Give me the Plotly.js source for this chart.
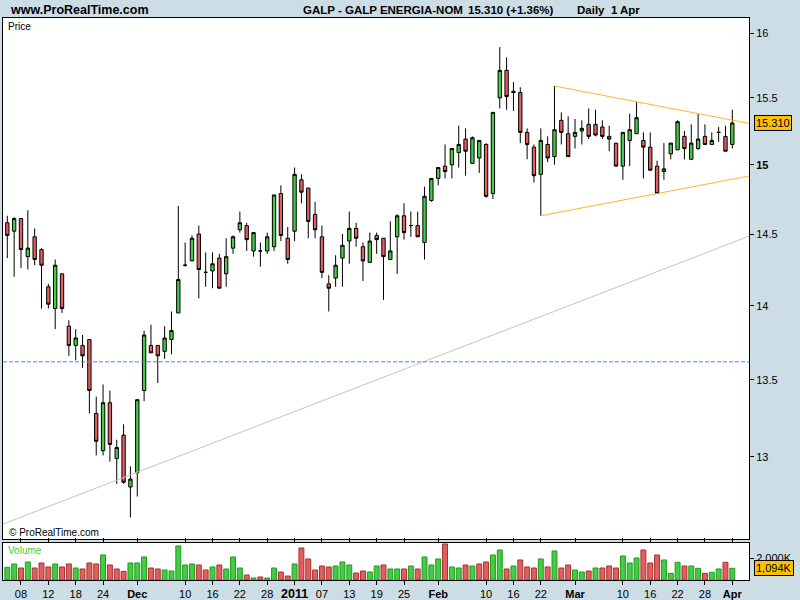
<!DOCTYPE html>
<html><head><meta charset="utf-8">
<script src="https://cdn.plot.ly/plotly-3.0.1.min.js"></script>
<style>html,body{margin:0;padding:0;background:#cddde6;}#chart{width:800px;height:600px;}</style>
</head><body><div id="chart"></div>
<script>
// ---- data (GALP daily, Nov 2010 - Apr 2011) ----
const dates = [
'2010-11-04','2010-11-05','2010-11-08','2010-11-09','2010-11-10','2010-11-11','2010-11-12','2010-11-15','2010-11-16','2010-11-17',
'2010-11-18','2010-11-19','2010-11-22','2010-11-23','2010-11-24','2010-11-25','2010-11-26','2010-11-29','2010-11-30','2010-12-01',
'2010-12-02','2010-12-03','2010-12-06','2010-12-07','2010-12-08','2010-12-09','2010-12-10','2010-12-13','2010-12-14','2010-12-15',
'2010-12-16','2010-12-17','2010-12-20','2010-12-21','2010-12-22','2010-12-23','2010-12-24','2010-12-27','2010-12-28','2010-12-29',
'2010-12-30','2010-12-31','2011-01-03','2011-01-04','2011-01-05','2011-01-06','2011-01-07','2011-01-10','2011-01-11','2011-01-12',
'2011-01-13','2011-01-14','2011-01-17','2011-01-18','2011-01-19','2011-01-20','2011-01-21','2011-01-24','2011-01-25','2011-01-26',
'2011-01-27','2011-01-28','2011-01-31','2011-02-01','2011-02-02','2011-02-03','2011-02-04','2011-02-07','2011-02-08','2011-02-09',
'2011-02-10','2011-02-11','2011-02-14','2011-02-15','2011-02-16','2011-02-17','2011-02-18','2011-02-21','2011-02-22','2011-02-23',
'2011-02-24','2011-02-25','2011-02-28','2011-03-01','2011-03-02','2011-03-03','2011-03-04','2011-03-07','2011-03-08','2011-03-09',
'2011-03-10','2011-03-11','2011-03-14','2011-03-15','2011-03-16','2011-03-17','2011-03-18','2011-03-21','2011-03-22','2011-03-23',
'2011-03-24','2011-03-25','2011-03-28','2011-03-29','2011-03-30','2011-03-31','2011-04-01'];

const openP = [
14.58,14.52,14.61,14.34,14.48,14.39,14.13,13.98,14.22,13.86,
13.73,13.73,13.77,13.28,13.04,13.35,12.99,13.14,12.81,12.90,
13.43,13.73,13.73,13.69,13.77,13.95,14.28,14.31,14.50,14.23,
14.24,14.33,14.22,14.40,14.53,14.56,14.38,14.38,14.38,14.41,
14.79,14.47,14.52,14.89,14.83,14.64,14.48,14.15,14.19,14.33,
14.45,14.54,14.41,14.30,14.49,14.47,14.32,14.48,14.63,14.56,
14.56,14.44,14.74,14.90,14.99,15.00,15.09,15.19,15.01,15.05,
15.15,14.79,15.50,15.71,15.55,15.54,15.24,15.13,14.93,15.15,
15.06,15.33,15.23,15.21,15.25,15.30,15.30,15.28,15.21,15.16,
14.99,15.18,15.23,15.18,15.13,14.99,14.95,15.08,15.11,15.21,
15.04,15.12,15.21,15.15,15.24,15.21,15.15];

const highP = [
14.63,14.62,14.61,14.67,14.54,14.40,14.15,14.32,14.22,13.90,
13.84,13.80,13.77,13.39,13.47,13.43,13.11,13.21,12.94,13.37,
13.83,13.87,13.73,13.86,13.96,14.70,14.44,14.49,14.56,14.37,
14.37,14.36,14.47,14.49,14.66,14.58,14.51,14.44,14.51,14.78,
14.85,14.55,14.98,14.93,14.83,14.73,14.56,14.21,14.35,14.50,
14.66,14.58,14.44,14.51,14.51,14.47,14.59,14.64,14.72,14.66,
14.66,14.84,14.90,14.98,15.15,15.12,15.29,15.27,15.21,15.18,
15.16,15.39,15.89,15.81,15.62,15.58,15.27,15.15,15.27,15.21,
15.59,15.39,15.36,15.34,15.33,15.42,15.41,15.33,15.29,15.16,
15.24,15.38,15.47,15.24,15.24,15.03,15.16,15.16,15.33,15.25,
15.30,15.38,15.30,15.24,15.28,15.29,15.41];

const lowP = [
14.33,14.20,14.26,14.25,14.28,13.98,13.98,13.84,13.95,13.66,
13.63,13.58,13.28,13.01,13.01,12.97,12.83,12.83,12.62,12.75,
13.36,13.68,13.48,13.64,13.67,13.95,14.27,14.31,14.05,14.13,
14.12,14.12,14.13,14.36,14.51,14.38,14.34,14.27,14.36,14.38,
14.45,14.29,14.45,14.72,14.47,14.47,14.19,13.96,14.13,14.13,
14.29,14.41,14.17,14.30,14.36,14.04,14.32,14.22,14.46,14.48,
14.48,14.32,14.73,14.85,14.90,14.90,14.98,14.92,15.01,14.94,
14.76,14.75,15.42,15.41,15.40,15.16,15.04,14.87,14.63,15.02,
15.00,15.15,15.06,15.12,15.15,15.19,15.21,15.19,15.10,14.99,
14.89,14.99,15.23,14.90,14.96,14.79,14.89,15.04,15.11,15.04,
15.04,15.11,15.15,15.15,15.17,15.10,15.12];

const closeP = [
14.49,14.61,14.39,14.40,14.32,14.28,14.01,14.28,13.98,13.73,
13.78,13.66,13.43,13.10,13.35,13.08,13.06,12.84,12.86,13.37,
13.80,13.68,13.66,13.78,13.83,14.18,14.28,14.47,14.25,14.23,
14.29,14.12,14.34,14.48,14.58,14.46,14.51,14.38,14.48,14.78,
14.49,14.32,14.93,14.80,14.59,14.53,14.23,14.12,14.28,14.42,
14.54,14.47,14.31,14.45,14.46,14.34,14.38,14.63,14.51,14.56,
14.48,14.77,14.90,14.98,14.95,15.12,15.15,15.10,15.20,15.18,
14.77,15.39,15.71,15.51,15.54,15.24,15.15,14.92,15.18,15.05,
15.26,15.24,15.06,15.24,15.27,15.21,15.22,15.21,15.19,14.99,
15.24,15.26,15.35,15.13,14.96,14.79,14.97,15.16,15.32,15.12,
15.16,15.19,15.15,15.18,15.24,15.10,15.31];

const volumeK = [
1186,1498,1123,1685,1123,1591,1217,1498,1217,1498,
1123,1030,1591,1498,2340,1404,1030,811,1591,1591,
2153,1123,1030,936,842,3182,1404,1498,1404,936,
1217,1404,1030,2153,1123,468,187,281,187,1123,
749,374,1498,2995,1966,936,1310,1217,1310,1685,
1404,655,842,749,1310,1404,1030,1030,1030,1310,
1030,2153,1404,1966,3370,1217,1123,1404,1310,1498,
1685,2340,2808,1030,1310,1872,1217,1123,1966,1217,
2714,1123,1404,936,749,842,1123,1123,1310,1123,
2246,1591,2059,2808,1591,2340,1872,624,1654,1310,
1310,1092,624,718,1030,1654,1094];

const tickDates = ['2010-11-08','2010-11-12','2010-11-18','2010-11-24','2010-12-01','2010-12-10','2010-12-16','2010-12-22','2010-12-28',
'2011-01-03','2011-01-07','2011-01-13','2011-01-19','2011-01-25','2011-02-01','2011-02-10','2011-02-16','2011-02-22','2011-03-01',
'2011-03-10','2011-03-16','2011-03-22','2011-03-28','2011-04-01'];
const tickLabels = ['08','12','18','24','<b>Dec</b>','10','16','22','28',
'<b style="font-size:12.5px">2011</b>','07','13','19','25','<b>Feb</b>','10','16','22','<b>Mar</b>',
'10','16','22','28','<b>Apr</b>'];

const priceTicks = [13,13.5,14,14.5,15,15.5,16];
const priceTickLabels = ['13','13.5','14','14.5','<b>15</b>','15.5','16'];
const volTicks = [2000];
const volTickLabels = ['2,000K'];

// drawn lines (anchor dates / prices)
const resistanceDates = ['2011-02-24','2011-03-14'];
const resistancePrices = [15.59,15.47];
const supportDates = ['2011-02-22','2011-03-17'];
const supportPrices = [14.63,14.79];
const longTrendDates = ['2010-11-04','2011-03-31'];
const longTrendPrices = [12.59,14.42];
const levelPrice = 13.62;

const priceRange = [12.488, 16.118];
const volRange = [0, 3506];
const headerTitle = 'GALP - GALP ENERGIA-NOM';
const headerQuote = '15.310 (+1.36%)';
const headerPeriod = 'Daily&nbsp;&nbsp;1 Apr';

// ---- build ----
const idx = dates.map((d,i)=>i);
const xRange = [-0.63, 108.44];
const GREEN = '#44cc44', RED = '#e06060';

function logLine(aDates, aPrices, k0, k1){
  const ka = dates.indexOf(aDates[0]), kb = dates.indexOf(aDates[1]);
  const la = Math.log(aPrices[0]), lb = Math.log(aPrices[1]);
  const f = k => Math.exp(la + (lb-la)*(k-ka)/(kb-ka));
  return {x:[k0,k1], y:[f(k0), f(k1)]};
}
const res = logLine(resistanceDates, resistancePrices, dates.indexOf(resistanceDates[0]), xRange[1]);
const sup = logLine(supportDates, supportPrices, dates.indexOf(supportDates[0]), xRange[1]);
const lt = logLine(longTrendDates, longTrendPrices, xRange[0], xRange[1]);

const volUp = closeP.map((c,i)=> i===0 || c >= closeP[i-1]);
const volFill = volUp.map(u=> u ? GREEN : RED);
const volEdge = volUp.map(u=> u ? '#1e9a1e' : '#a83030');

const traces = [
  {type:'scatter', mode:'lines', x:lt.x, y:lt.y, xaxis:'x', yaxis:'y', line:{color:'#c4c4c4', width:1}, hoverinfo:'skip'},
  {type:'scatter', mode:'lines', x:xRange, y:[levelPrice, levelPrice], xaxis:'x', yaxis:'y', line:{color:'#4f86f7', width:1, dash:'4px,2px'}, hoverinfo:'skip'},
  {type:'scatter', mode:'lines', x:res.x, y:res.y, xaxis:'x', yaxis:'y', line:{color:'#ffb52e', width:1}, hoverinfo:'skip'},
  {type:'scatter', mode:'lines', x:sup.x, y:sup.y, xaxis:'x', yaxis:'y', line:{color:'#ffb52e', width:1}, hoverinfo:'skip'},
  {type:'candlestick', x:idx, open:openP, high:highP, low:lowP, close:closeP, xaxis:'x', yaxis:'y',
   increasing:{line:{color:'#000', width:1}, fillcolor:GREEN},
   decreasing:{line:{color:'#000', width:1}, fillcolor:RED}, whiskerwidth:0},
  {type:'bar', x:idx, y:volumeK, xaxis:'x', yaxis:'y2', width:0.72,
   marker:{color:volFill, line:{color:volEdge, width:1}}}
];

const W = 800, H = 600, L = 3, R = 51, T = 18, B = 20;
const px = x => (x - L)/(W - L - R);
const py = y => (H - B - y)/(H - T - B);

const last = closeP.length - 1;
const fmtK = v => v.toLocaleString('en-US') + 'K';

const annFont = {family:'Liberation Sans, Arial, sans-serif', size:11, color:'#000'};
const hdrFont = {family:'Liberation Sans, Arial, sans-serif', size:11.5, color:'#000'};

const annotations = [
  {xref:'paper', yref:'paper', x:px(8), y:py(10), xanchor:'left', yanchor:'middle', showarrow:false,
   text:'<b>www.ProRealTime.com</b>', font:{family:'Liberation Sans, Arial, sans-serif', size:12.5, color:'#000'}},
  {xref:'paper', yref:'paper', x:px(301), y:py(10), xanchor:'left', yanchor:'middle', showarrow:false,
   text:'<b>'+headerTitle+'</b>', font:hdrFont},
  {xref:'paper', yref:'paper', x:px(466), y:py(10), xanchor:'left', yanchor:'middle', showarrow:false,
   text:'<b>'+headerQuote+'</b>', font:hdrFont},
  {xref:'paper', yref:'paper', x:px(575), y:py(10), xanchor:'left', yanchor:'middle', showarrow:false,
   text:'<b>'+headerPeriod+'</b>', font:hdrFont},
  {xref:'paper', yref:'paper', x:px(6), y:py(18.5), xanchor:'left', yanchor:'top', showarrow:false,
   text:'Price', font:{family:'Liberation Sans, Arial, sans-serif', size:10, color:'#000'}},
  {xref:'paper', yref:'paper', x:px(6), y:py(542.5), xanchor:'left', yanchor:'top', showarrow:false,
   text:'Volume', font:{family:'Liberation Sans, Arial, sans-serif', size:10, color:'#44cc44'}},
  {xref:'paper', yref:'paper', x:px(7), y:py(532), xanchor:'left', yanchor:'middle', showarrow:false,
   text:'© ProRealTime.com', font:{family:'Liberation Sans, Arial, sans-serif', size:10, color:'#000'}},
  {xref:'paper', yref:'y', x:1, xshift:5, y:Math.log10(closeP[last]), xanchor:'left', yanchor:'middle', showarrow:false,
   text:closeP[last].toFixed(3), bgcolor:'#ffc000', bordercolor:'#000', borderwidth:1, borderpad:1, font:annFont},
  {xref:'paper', yref:'y2', x:1, xshift:5, y:volumeK[last], xanchor:'left', yanchor:'middle', showarrow:false,
   text:fmtK(volumeK[last]), bgcolor:'#ffc000', bordercolor:'#000', borderwidth:1, borderpad:1, font:annFont}
];

const axLine = {showline:true, linecolor:'#000', linewidth:1, showgrid:false, zeroline:false,
  ticks:'outside', ticklen:4, tickcolor:'#000', tickwidth:1};

const layout = {
  width:W, height:H, margin:{l:L, r:R, t:T, b:B, pad:0},
  paper_bgcolor:'#cddde6', plot_bgcolor:'#ffffff', showlegend:false,
  font:{family:'Liberation Sans, Arial, sans-serif', size:11, color:'#000'},
  xaxis:Object.assign({}, axLine, {type:'linear', range:xRange, anchor:'y2', mirror:'all',
    rangeslider:{visible:false}, tickmode:'array',
    tickvals:tickDates.map(d=>dates.indexOf(d)), ticktext:tickLabels, tickfont:{size:11}}),
  yaxis:Object.assign({}, axLine, {type:'log', domain:[(H-B-539)/(H-T-B), 1], anchor:'x', side:'right', mirror:true,
    range:priceRange.map(Math.log10), tickmode:'array', tickvals:priceTicks, ticktext:priceTickLabels, tickfont:{size:11}}),
  yaxis2:Object.assign({}, axLine, {domain:[0, (H-B-542.5)/(H-T-B)], anchor:'x', side:'right', mirror:true,
    range:volRange, tickmode:'array', tickvals:volTicks, ticktext:volTickLabels, tickfont:{size:11}}),
  bargap:0.28,
  annotations:annotations
};

Plotly.newPlot('chart', traces, layout, {staticPlot:true, displayModeBar:false});
</script></body></html>
